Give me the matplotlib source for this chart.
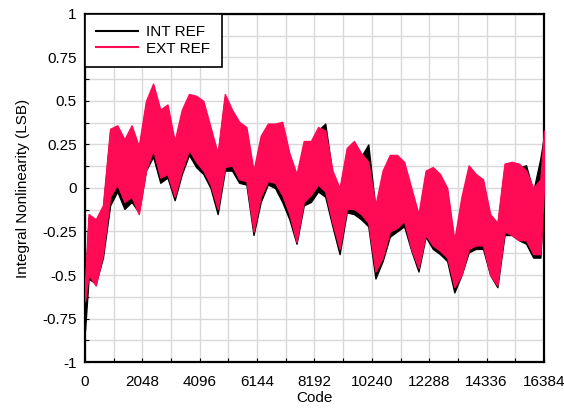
import matplotlib
matplotlib.use("Agg")
import matplotlib.pyplot as plt
import numpy as np

plt.rcParams["font.family"] = ["Liberation Sans", "DejaVu Sans"]

# INL envelope (min / max over each 256-code bin), in LSB
codes = [0, 128, 384, 640, 896, 1152, 1408, 1664, 1920, 2176, 2432, 2688, 2944,
         3200, 3456, 3712, 3968, 4224, 4480, 4736, 4992, 5248, 5504, 5760, 6016,
         6272, 6528, 6784, 7040, 7296, 7552, 7808, 8064, 8320, 8576, 8832, 9088,
         9344, 9600, 9856, 10112, 10368, 10624, 10880, 11136, 11392, 11648, 11904,
         12160, 12416, 12672, 12928, 13184, 13440, 13696, 13952, 14208, 14464,
         14720, 14976, 15232, 15488, 15744, 16000, 16256, 16384]

ext_hi = [-0.55, -0.15, -0.18, -0.10, 0.34, 0.36, 0.28, 0.36, 0.24, 0.50, 0.60, 0.45, 0.48,
          0.27, 0.45, 0.54, 0.53, 0.50, 0.35, 0.20, 0.54, 0.45, 0.38, 0.35, 0.10,
          0.30, 0.37, 0.37, 0.38, 0.20, 0.08, 0.27, 0.27, 0.35, 0.33, 0.10, 0.00,
          0.23, 0.27, 0.20, 0.15, -0.10, 0.10, 0.19, 0.19, 0.15, 0.00, -0.15,
          0.10, 0.12, 0.08, 0.00, -0.30, -0.05, 0.13, 0.08, 0.05, -0.15,
          -0.20, 0.14, 0.15, 0.14, 0.10, 0.00, 0.05, 0.33]
ext_lo = [-0.65, -0.50, -0.56, -0.38, -0.05, 0.02, -0.08, -0.05, -0.15, 0.10, 0.22, 0.06, 0.08,
          -0.05, 0.10, 0.22, 0.15, 0.10, 0.02, -0.12, 0.12, 0.13, 0.05, 0.04, -0.25,
          -0.05, 0.04, 0.03, -0.04, -0.15, -0.31, -0.08, -0.04, 0.02, -0.02, -0.20, -0.35,
          -0.12, -0.12, -0.15, -0.20, -0.48, -0.40, -0.25, -0.23, -0.19, -0.35, -0.46,
          -0.27, -0.33, -0.36, -0.40, -0.57, -0.50, -0.35, -0.33, -0.33, -0.50,
          -0.56, -0.25, -0.27, -0.30, -0.30, -0.38, -0.38, 0.00]

int_hi = [-0.60, -0.17, -0.20, -0.12, 0.32, 0.34, 0.26, 0.34, 0.22, 0.48, 0.56, 0.43, 0.46,
          0.25, 0.43, 0.52, 0.51, 0.48, 0.33, 0.18, 0.52, 0.43, 0.36, 0.33, 0.08,
          0.28, 0.35, 0.35, 0.36, 0.18, 0.06, 0.25, 0.25, 0.33, 0.37, 0.08, -0.02,
          0.21, 0.25, 0.18, 0.25, -0.12, 0.08, 0.17, 0.17, 0.13, -0.02, -0.17,
          0.08, 0.10, 0.06, -0.02, -0.32, -0.07, 0.11, 0.06, 0.03, -0.17,
          -0.22, 0.12, 0.13, 0.12, 0.13, -0.02, 0.17, 0.30]
int_lo = [-0.82, -0.52, -0.55, -0.40, -0.10, -0.02, -0.12, -0.08, -0.14, 0.10, 0.18, 0.03, 0.06,
          -0.07, 0.08, 0.19, 0.12, 0.08, 0.00, -0.15, 0.10, 0.10, 0.03, 0.02, -0.27,
          -0.08, 0.02, 0.00, -0.08, -0.18, -0.32, -0.10, -0.08, -0.02, -0.05, -0.22, -0.38,
          -0.14, -0.15, -0.18, -0.22, -0.52, -0.42, -0.28, -0.25, -0.22, -0.36, -0.48,
          -0.28, -0.35, -0.38, -0.42, -0.60, -0.50, -0.37, -0.35, -0.35, -0.50,
          -0.57, -0.27, -0.27, -0.30, -0.32, -0.40, -0.40, 0.00]

INT_COLOR = "black"
EXT_COLOR = "#ff0a54"
FS = 11

fig = plt.figure(figsize=(5.64, 4.11), dpi=100)
ax = fig.add_axes([0.1507, 0.1192, 0.8138, 0.8468])

ax.fill_between(codes, int_lo, int_hi, color=INT_COLOR, lw=1.0, edgecolor=INT_COLOR, zorder=3)
ax.fill_between(codes, ext_lo, ext_hi, color=EXT_COLOR, lw=1.0, edgecolor=EXT_COLOR, zorder=4)
ax.plot([], [], color=INT_COLOR, lw=1.5, label="INT REF")
ax.plot([], [], color=EXT_COLOR, lw=1.5, label="EXT REF")

ax.set_xlim(0, 16384)
ax.set_ylim(-1, 1)
ax.set_xticks(np.arange(0, 16385, 2048))
ax.set_xticks(np.arange(0, 16385, 1024), minor=True)
ax.set_yticks([-1, -0.75, -0.5, -0.25, 0, 0.25, 0.5, 0.75, 1])
ax.set_yticklabels(["-1", "-0.75", "-0.5", "-0.25", "0", "0.25", "0.5", "0.75", "1"])
ax.set_yticks(np.arange(-1, 1.01, 0.125), minor=True)
ax.grid(which="both", color="#d9d9d9", lw=1, zorder=0)
ax.set_axisbelow(True)
ax.tick_params(which="both", direction="in", length=3, width=0.8, labelsize=FS)
ax.tick_params(axis="x", pad=9)
ax.tick_params(axis="y", pad=6)
for s in ax.spines.values():
    s.set_linewidth(1.6)

ax.set_xlabel("Code", fontsize=FS, labelpad=2)
ax.set_ylabel("Integral Nonlinearity (LSB)", fontsize=FS, labelpad=9)

leg = ax.legend(loc="upper left", fontsize=FS, frameon=True, fancybox=False,
                borderaxespad=0, handlelength=2.7, handletextpad=0.55,
                borderpad=0.75, labelspacing=0.15)
leg.get_frame().set_edgecolor("black")
leg.get_frame().set_linewidth(1.2)
leg.get_frame().set_alpha(1)
leg.set_zorder(10)

fig.savefig("out.png", dpi=100)
